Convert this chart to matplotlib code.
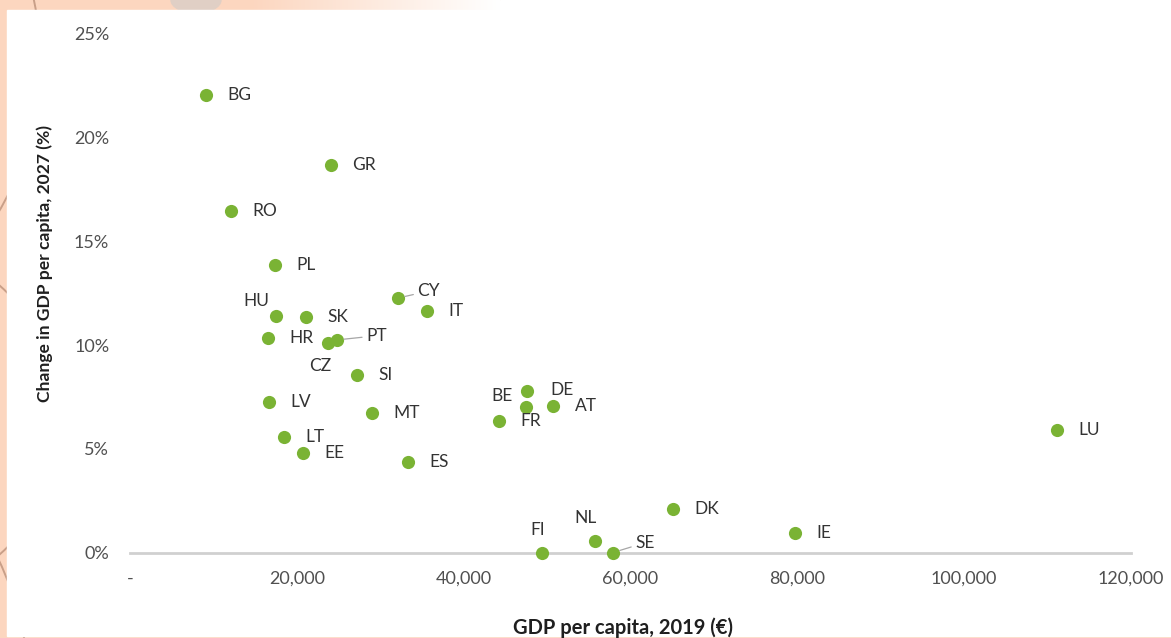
import matplotlib.pyplot as plt
import numpy as np
from matplotlib.patches import Rectangle, Circle, Ellipse
from matplotlib.ticker import FuncFormatter

plt.rcParams['font.family'] = ['Lato', 'DejaVu Sans']

countries = ["BG", "GR", "RO", "PL", "HU", "SK", "HR", "CZ", "PT", "CY",
             "IT", "SI", "LV", "MT", "LT", "EE", "ES", "DE", "BE", "AT",
             "FR", "LU", "DK", "IE", "NL", "SE", "FI"]

gdp_2019 = [9110, 24100, 12110, 17390, 17510, 21100, 16550, 23740, 24820, 32130,
            35610, 27220, 16670, 29020, 18470, 20740, 33330, 47600, 47480, 50720,
            44240, 111150, 65110, 79740, 55760, 57910, 49400]

change_2027 = [22.06, 18.70, 16.47, 13.86, 11.40, 11.35, 10.34, 10.10, 10.25, 12.27,
               11.64, 8.56, 7.26, 6.73, 5.57, 4.80, 4.36, 7.79, 7.02, 7.06,
               6.34, 5.91, 2.10, 0.94, 0.55, 0.0, 0.0]

x_ticks = [0, 20000, 40000, 60000, 80000, 100000, 120000]
y_ticks = [0, 5, 10, 15, 20, 25]

# label placement in points: (dx, dy, ha, leader line)
default_offset = (15.5, 0, 'left', False)
label_offsets = {
    "HU": (-14, 10.5, 'center', False),
    "CZ": (-5.5, -16.5, 'center', False),
    "PT": (21, 3, 'left', True),
    "CY": (14, 5, 'left', True),
    "BE": (-17, 8, 'center', False),
    "DE": (16.5, 0.5, 'left', False),
    "NL": (-7, 16.5, 'center', False),
    "FI": (-3.5, 16, 'center', False),
    "SE": (16, 7, 'left', True),
}

point_color = "#7ab334"
label_color = "#333333"
tick_color = "#505050"
peach = "#fcd6bf"

W, H = 1171, 638
fig = plt.figure(figsize=(W / 100, H / 100), dpi=100, facecolor=peach)

# decorative backdrop behind the white chart panel
bg = fig.add_axes([0, 0, 1, 1], zorder=-10)
bg.set_xlim(0, W)
bg.set_ylim(H, 0)
bg.axis('off')
bg.add_patch(Rectangle((0, 0), W, H, color=peach))
for cx, cy, r in [(-260, 60, 300), (-120, 420, 180), (-300, 700, 330)]:
    bg.add_patch(Circle((cx, cy), r, fill=False, ec="#c99f88", lw=1.4))
bg.add_patch(Ellipse((196, 0), 50, 26, color="#e0cfc5"))
fade = np.linspace(0, 1, 256).reshape(1, -1)
peach_rgb = np.array([252, 214, 191]) / 255
strip = peach_rgb + (1 - peach_rgb) * fade[..., None]
bg.imshow(strip, extent=(250, 500, 10, 0), aspect='auto', zorder=2)
bg.add_patch(Rectangle((500, 0), W - 500, 10, color="white", zorder=2))
bg.add_patch(Rectangle((7, 10), W - 7, 626, color="white", zorder=3))

ax = fig.add_axes([130 / W, 1 - 552.5 / H, 1001 / W, 518.5 / H])
ax.set_facecolor("none")
ax.scatter(gdp_2019, change_2027, s=90, color=point_color, zorder=3, clip_on=False,
           linewidths=0)

for name, gx, cy in zip(countries, gdp_2019, change_2027):
    dx, dy, ha, leader = label_offsets.get(name, default_offset)
    props = dict(arrowstyle='-', color="#a6a6a6", lw=0.9, shrinkA=1, shrinkB=5) if leader else None
    ax.annotate(name, (gx, cy), xytext=(dx, dy), textcoords='offset points',
                ha=ha, va='center', fontsize=12.5, color=label_color,
                arrowprops=props, annotation_clip=False)

ax.set_xlim(0, 120000)
ax.set_ylim(0, 25)
ax.set_xticks(x_ticks)
ax.set_yticks(y_ticks)
ax.xaxis.set_major_formatter(FuncFormatter(lambda v, p: "-" if v == 0 else f"{v:,.0f}"))
ax.yaxis.set_major_formatter(FuncFormatter(lambda v, p: f"{v:.0f}%"))
ax.tick_params(axis='both', length=0, labelsize=13, labelcolor=tick_color)
ax.tick_params(axis='x', pad=13)
ax.tick_params(axis='y', pad=15)

for side in ["top", "right", "left"]:
    ax.spines[side].set_visible(False)
ax.spines["bottom"].set_color("#d0d0d0")
ax.spines["bottom"].set_linewidth(2)

fig.text(45 / W, 1 - 264 / H, "Change in GDP per capita, 2027 (%)", rotation=90,
         ha='center', va='center', fontsize=12.6, fontweight='bold', color="#1f1f1f")
fig.text(623 / W, 1 - 628 / H, "GDP per capita, 2019 (€)", ha='center', va='center',
         fontsize=14.5, fontweight='bold', color="#1f1f1f")

fig.savefig("out.png", dpi=100, facecolor=peach)
